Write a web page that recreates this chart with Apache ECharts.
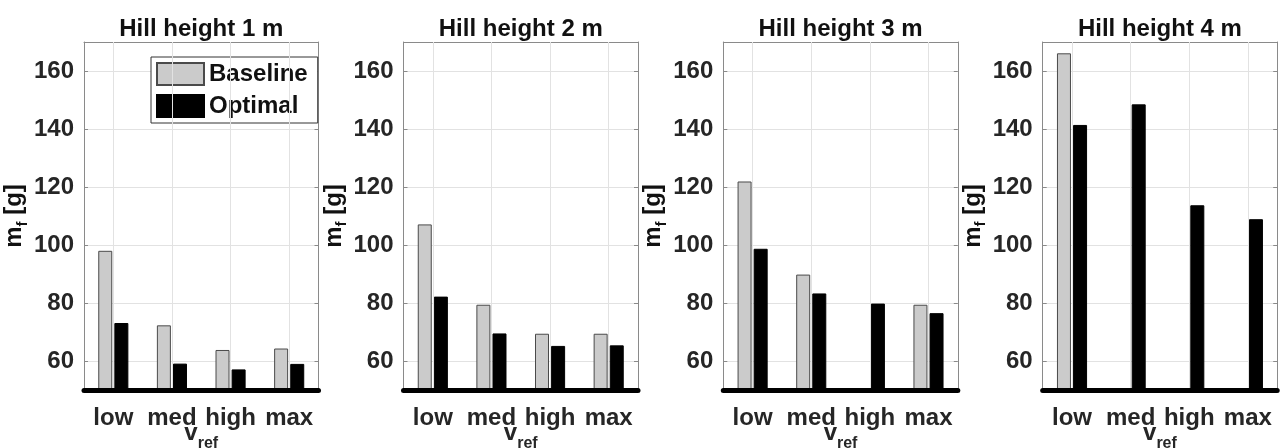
<!DOCTYPE html>
<html>
<head>
<meta charset="utf-8">
<title>Fuel mass by hill height</title>
<script src="https://cdn.jsdelivr.net/npm/echarts@6/dist/echarts.min.js"></script>
<style>
  html, body { margin: 0; padding: 0; background: #fff; }
  #chart { width: 1280px; height: 448px; }
</style>
</head>
<body>
<div id="chart"></div>
<script>
// Reference speed levels on the x axis
const categories = ['low', 'med', 'high', 'max'];

// Panel titles
const titles = ['Hill height 1 m', 'Hill height 2 m', 'Hill height 3 m', 'Hill height 4 m'];

// Fuel mass m_f [g]; null = no baseline result for that speed
const baseline1 = [98.0, 72.3, 63.8, 64.3];
const optimal1  = [73.1, 59.1, 57.1, 59.0];
const baseline2 = [107.1, 79.4, 69.4, 69.4];
const optimal2  = [82.2, 69.5, 65.2, 65.4];
const baseline3 = [121.9, 89.8, null, 79.4];
const optimal3  = [98.7, 83.3, 79.8, 76.5];
const baseline4 = [166.1, null, null, null];
const optimal4  = [141.4, 148.5, 113.7, 108.9];

const baselineSets = [baseline1, baseline2, baseline3, baseline4];
const optimalSets = [optimal1, optimal2, optimal3, optimal4];

const FONT = "'Liberation Sans', Arial, Helvetica, sans-serif";
const FS = 24;
const frameColor = '#8a8a8a';
const gridColor = '#e2e2e2';
const textColor = '#262626';

const panelLeft = [84, 403.5, 723.3, 1042.7];
const panelWidth = 234.5;
const panelTop = 42;
const panelHeight = 348;

const grids = [], xAxes = [], yAxes = [], series = [], titleList = [];

panelLeft.forEach((left, i) => {
  grids.push({
    left: left, top: panelTop, width: panelWidth, height: panelHeight,
    containLabel: false, outerBoundsMode: 'none'
  });

  titleList.push({
    text: titles[i],
    left: left + panelWidth / 2,
    top: 17,
    textAlign: 'center',
    padding: 0,
    textStyle: { fontFamily: FONT, fontSize: FS, fontWeight: 'bold', color: '#111' }
  });

  // bottom category axis: thick black baseline
  xAxes.push({
    type: 'category', gridIndex: i, data: categories, boundaryGap: true, z: 5,
    axisLine: { lineStyle: { color: '#000', width: 5 } },
    axisTick: { show: false },
    axisLabel: { fontFamily: FONT, fontSize: FS, fontWeight: 'bold', color: textColor, margin: 16, interval: 0 },
    splitLine: { show: true, alignWithLabel: true, lineStyle: { color: gridColor, width: 1 } },
    name: '{v|v}{s|ref}',
    nameLocation: 'middle',
    nameGap: 38,
    nameMoveOverlap: false,
    nameTextStyle: {
      rich: {
        v: { fontFamily: FONT, fontSize: FS, fontWeight: 'bold', color: textColor, lineHeight: 24, padding: [0, 0, 14, 0] },
        s: { fontFamily: FONT, fontSize: 16, fontWeight: 'bold', color: textColor, lineHeight: 16, verticalAlign: 'bottom' }
      }
    }
  });
  // top mirror axis: frame edge with inward ticks
  xAxes.push({
    type: 'category', gridIndex: i, data: categories, position: 'top', boundaryGap: true,
    axisLine: { lineStyle: { color: frameColor, width: 1 } },
    axisTick: { show: true, inside: true, alignWithLabel: true, length: 4, lineStyle: { color: frameColor } },
    axisLabel: { show: false },
    splitLine: { show: false }
  });

  yAxes.push({
    type: 'value', gridIndex: i, min: 50, max: 170, splitNumber: 6,
    axisLine: { show: true, lineStyle: { color: frameColor, width: 1 } },
    axisTick: { show: true, inside: true, length: 4, lineStyle: { color: frameColor } },
    axisLabel: {
      fontFamily: FONT, fontSize: FS, fontWeight: 'bold', color: textColor, margin: 10,
      showMinLabel: false, showMaxLabel: false,
      formatter: v => (v % 20 === 0 ? String(v) : '')
    },
    splitLine: { show: true, lineStyle: { color: gridColor, width: 1 } },
    name: '{m|m}{s|f}{m| [g]}',
    nameLocation: 'middle',
    nameRotate: 90,
    nameGap: 54,
    nameMoveOverlap: false,
    nameTextStyle: {
      rich: {
        m: { fontFamily: FONT, fontSize: FS, fontWeight: 'bold', color: '#111', lineHeight: 24, padding: [0, 0, 7, 0] },
        s: { fontFamily: FONT, fontSize: 15, fontWeight: 'bold', color: '#111', lineHeight: 15, verticalAlign: 'bottom' }
      }
    }
  });
  // right mirror axis
  yAxes.push({
    type: 'value', gridIndex: i, min: 50, max: 170, splitNumber: 6, position: 'right',
    axisLine: { show: true, lineStyle: { color: frameColor, width: 1 } },
    axisTick: { show: true, inside: true, length: 4, lineStyle: { color: frameColor } },
    axisLabel: { show: false },
    splitLine: { show: false }
  });

  series.push({
    name: 'Baseline', type: 'bar', xAxisIndex: 2 * i, yAxisIndex: 2 * i,
    data: baselineSets[i], barWidth: 14, barGap: '15%',
    itemStyle: { color: '#cbcbcb', borderColor: '#4a4a4a', borderWidth: 1 },
    emphasis: { disabled: true }
  });
  series.push({
    name: 'Optimal', type: 'bar', xAxisIndex: 2 * i, yAxisIndex: 2 * i,
    data: optimalSets[i], barWidth: 14, barGap: '15%',
    itemStyle: { color: '#000', borderColor: '#000', borderWidth: 1 },
    emphasis: { disabled: true }
  });
});

const chart = echarts.init(document.getElementById('chart'), null, { renderer: 'canvas' });
chart.setOption({
  animation: false,
  backgroundColor: '#fff',
  title: titleList,
  legend: {
    data: ['Baseline', 'Optimal'],
    orient: 'vertical',
    left: 151, top: 57,
    padding: [5, 10, 5, 5],
    itemWidth: 47, itemHeight: 22, itemGap: 8,
    icon: 'rect',
    backgroundColor: '#fff',
    borderColor: '#333', borderWidth: 1,
    textStyle: { fontFamily: FONT, fontSize: FS, fontWeight: 'bold', color: '#111' },
    selectedMode: false
  },
  grid: grids,
  xAxis: xAxes,
  yAxis: yAxes,
  series: series
});
</script>
</body>
</html>
